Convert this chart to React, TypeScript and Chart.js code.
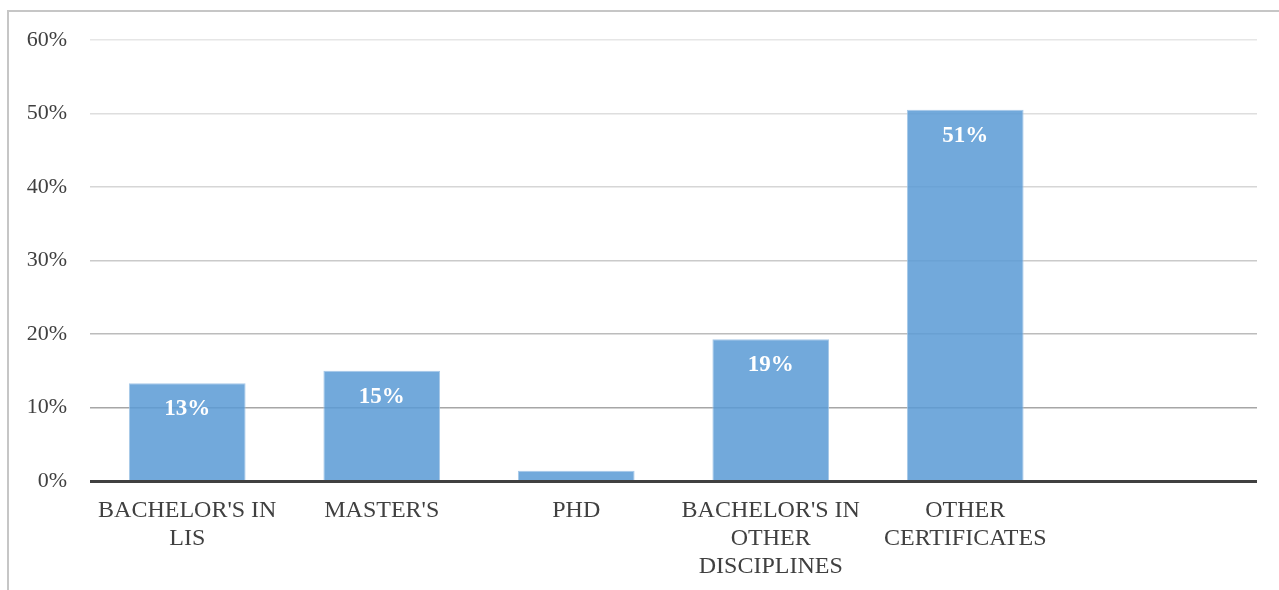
import React, { useEffect, useRef } from "react";
import { Chart, registerables } from "chart.js";

Chart.register(...registerables);

// Categories (multi-line labels); the trailing empty slot keeps room on the right
const categories: (string | string[])[] = [
  ["BACHELOR'S IN", "LIS"],
  ["MASTER'S"],
  ["PHD"],
  ["BACHELOR'S IN", "OTHER", "DISCIPLINES"],
  ["OTHER", "CERTIFICATES"],
  "",
];

// Share of respondents per qualification (%)
const shares: (number | null)[] = [13.3, 15.0, 1.4, 19.3, 50.5, null];

// Y axis ticks
const yMin = 0;
const yMax = 60;
const yStep = 10;

const FONT = "'Liberation Serif', 'Times New Roman', serif";
const TEXT = "#404040";

// Gridlines get darker toward the baseline
const gridShade: Record<number, string> = {
  10: "#a6a6a6",
  20: "#bcbcbc",
  30: "#cacaca",
  40: "#d6d6d6",
  50: "#dedede",
  60: "#e6e6e6",
};

const valueLabels = {
  id: "valueLabels",
  afterDatasetsDraw(chart: any) {
    const { ctx } = chart;
    const meta = chart.getDatasetMeta(0);
    ctx.save();
    ctx.font = `bold 23px ${FONT}`;
    ctx.fillStyle = "#ffffff";
    ctx.textAlign = "center";
    ctx.textBaseline = "middle";
    meta.data.forEach((bar: any, i: number) => {
      const v = shares[i];
      if (v == null || v < 5) return;
      ctx.fillText(`${Math.round(v)}%`, bar.x, bar.y + 26);
    });
    ctx.restore();
  },
};

const baseline = {
  id: "baseline",
  afterDatasetsDraw(chart: any) {
    const { ctx, chartArea } = chart;
    const y = chart.scales.y.getPixelForValue(0);
    ctx.save();
    ctx.strokeStyle = "#404040";
    ctx.lineWidth = 3;
    ctx.beginPath();
    ctx.moveTo(chartArea.left, y + 0.5);
    ctx.lineTo(chartArea.right, y + 0.5);
    ctx.stroke();
    ctx.restore();
  },
};

export default function App() {
  const canvasRef = useRef<HTMLCanvasElement | null>(null);

  useEffect(() => {
    const canvas = canvasRef.current;
    if (!canvas) return;
    const chart = new Chart(canvas, {
      type: "bar",
      data: {
        labels: categories,
        datasets: [
          {
            data: shares,
            backgroundColor: "rgba(91,155,213,0.86)",
            borderColor: "rgba(157,195,230,0.9)",
            borderWidth: 1,
            barPercentage: 0.6,
            categoryPercentage: 1,
          },
        ],
      },
      options: {
        responsive: false,
        animation: false,
        layout: { padding: { top: 40, right: 22, bottom: 0, left: 0 } },
        plugins: {
          legend: { display: false },
          tooltip: { enabled: false },
        },
        scales: {
          x: {
            grid: { display: false, drawTicks: false },
            border: { display: false },
            ticks: {
              color: TEXT,
              font: { family: FONT, size: 24, lineHeight: 1.167 },
              padding: 16,
              maxRotation: 0,
              autoSkip: false,
            },
            afterFit(scale: any) {
              scale.height = 109;
            },
          },
          y: {
            min: yMin,
            max: yMax,
            grid: {
              drawTicks: false,
              color: (ctx: any) => gridShade[ctx.tick?.value] ?? "rgba(0,0,0,0)",
              lineWidth: 1.5,
            },
            border: { display: false },
            ticks: {
              stepSize: yStep,
              color: TEXT,
              font: { family: FONT, size: 22 },
              padding: 23,
              callback: (v: any) => `${v}%`,
            },
            afterFit(scale: any) {
              scale.width = 90;
            },
          },
        },
      },
      plugins: [valueLabels, baseline],
    });
    return () => chart.destroy();
  }, []);

  return (
    <div
      style={{
        position: "fixed",
        left: 0,
        top: 0,
        width: 1279,
        height: 590,
        overflow: "hidden",
        background: "#ffffff",
      }}
    >
      <div
        style={{
          position: "absolute",
          left: 7,
          top: 10,
          width: 1400,
          height: 800,
          borderLeft: "2px solid #c6c6c6",
          borderTop: "2px solid #c6c6c6",
        }}
      />
      <canvas
        ref={canvasRef}
        width={1279}
        height={590}
        style={{ position: "absolute", left: 0, top: 0, width: 1279, height: 590 }}
      />
    </div>
  );
}
